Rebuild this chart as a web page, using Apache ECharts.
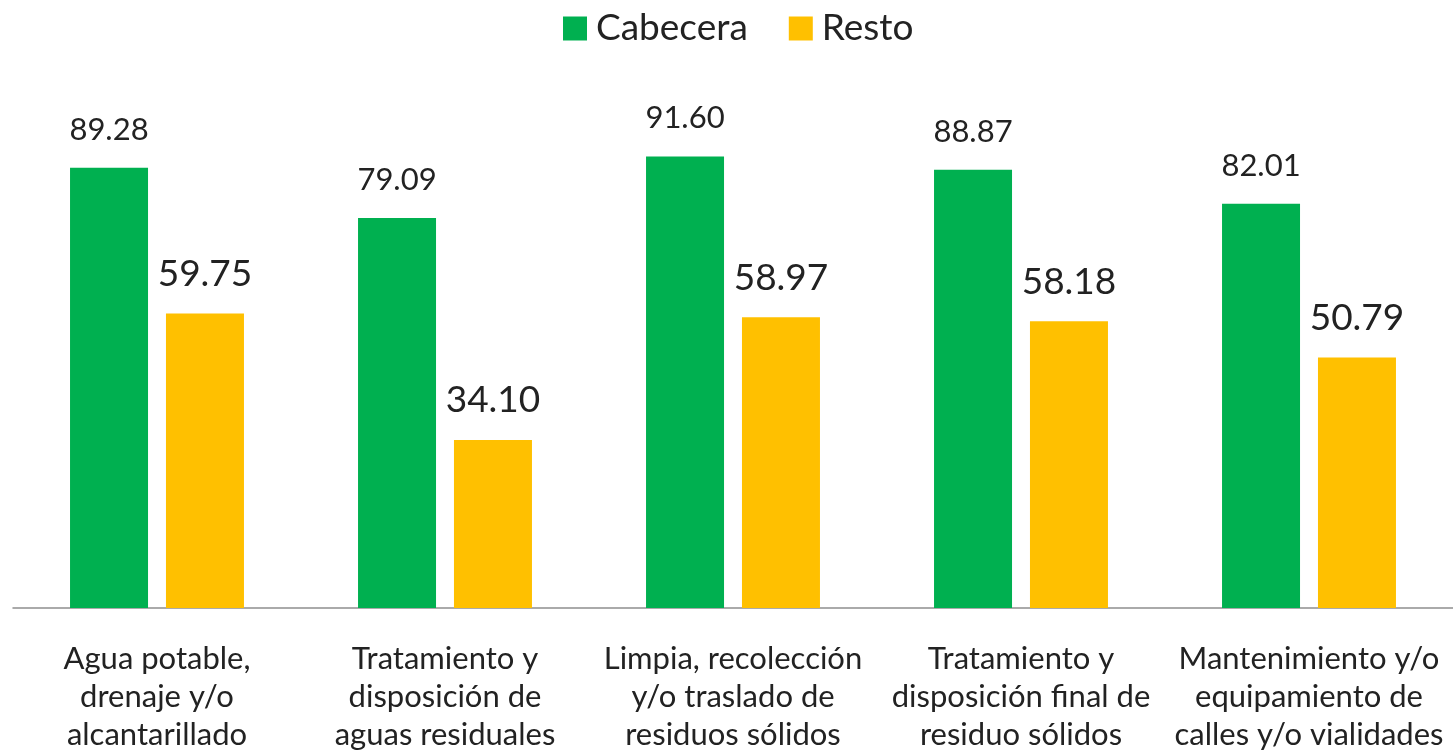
<!DOCTYPE html>
<html>
<head>
<meta charset="utf-8">
<script src="https://cdn.jsdelivr.net/npm/echarts@6/dist/echarts.min.js"></script>
<style>
html,body{margin:0;padding:0;background:#fff;}
#chart{width:1453px;height:754px;}
</style>
</head>
<body>
<div id="chart"></div>
<script>
const categories = [
  "Agua potable,\ndrenaje y/o\nalcantarillado",
  "Tratamiento y\ndisposición de\naguas residuales",
  "Limpia, recolección\ny/o traslado de\nresiduos sólidos",
  "Tratamiento y\ndisposición final de\nresiduo sólidos",
  "Mantenimiento y/o\nequipamiento de\ncalles y/o vialidades"
];
const cabecera = [89.28, 79.09, 91.60, 88.87, 82.01];
const resto = [59.75, 34.10, 58.97, 58.18, 50.79];

const FONT = 'Lato';
const chart = echarts.init(document.getElementById('chart'));
chart.setOption({
  animation: false,
  textStyle: { fontFamily: FONT },
  legend: {
    left: 558, top: 5,
    itemWidth: 24, itemHeight: 24, itemGap: 41,
    icon: 'rect',
    textStyle: { fontSize: 37, color: '#222', fontFamily: FONT, padding: [0,0,0,4] },
    data: ['Cabecera', 'Resto']
  },
  grid: { left: 13, width: 1442, top: 115, bottom: 145, containLabel: false },
  xAxis: {
    type: 'category',
    data: categories,
    axisLine: { lineStyle: { color: '#8f8f8f', width: 1.5 } },
    axisTick: { show: false },
    axisLabel: {
      interval: 0, margin: 32, fontSize: 31, lineHeight: 38,
      color: '#222', fontFamily: FONT, align: 'center'
    }
  },
  yAxis: { type: 'value', min: 0, max: 100, show: false, splitLine: { show: false } },
  series: [
    {
      name: 'Cabecera', type: 'bar', data: cabecera,
      barWidth: 78, barGap: '23%',
      itemStyle: { color: '#00B050' },
      label: {
        show: true, position: 'top', distance: 22,
        fontSize: 31, lineHeight: 32, color: '#222', fontFamily: FONT,
        formatter: p => p.value.toFixed(2)
      }
    },
    {
      name: 'Resto', type: 'bar', data: resto,
      barWidth: 78,
      itemStyle: { color: '#FFC000' },
      label: {
        show: true, position: 'top', distance: 21,
        fontSize: 37, lineHeight: 37, color: '#222', fontFamily: FONT,
        formatter: p => p.value.toFixed(2)
      }
    }
  ]
});
</script>
</body>
</html>
